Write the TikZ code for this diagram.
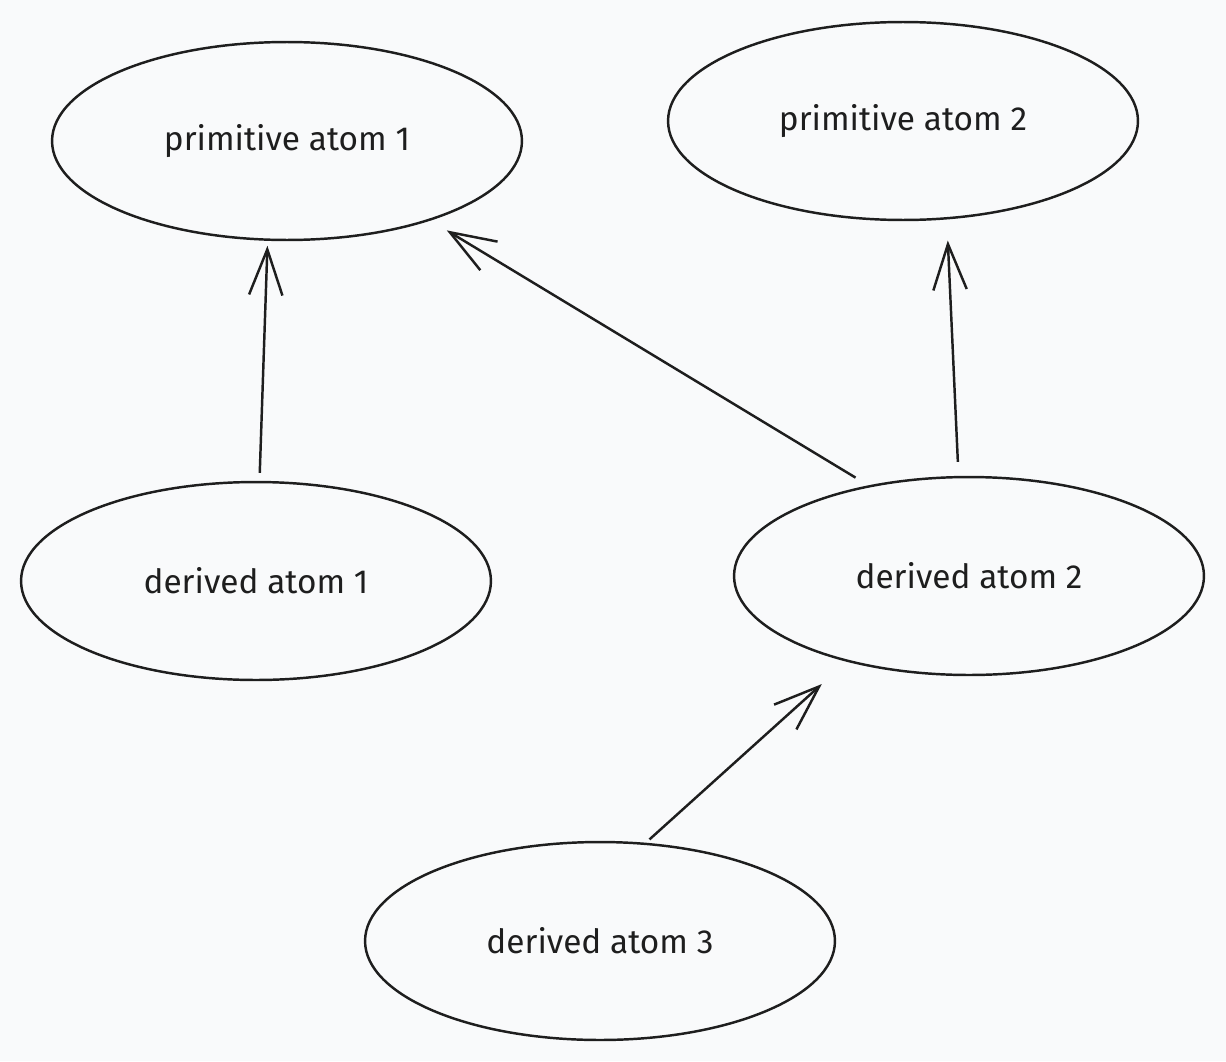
\documentclass[tikz,border=0pt]{standalone}
\usepackage{fontspec}
\setmainfont{Fira Sans}
\usetikzlibrary{shapes.geometric,arrows.meta}
\definecolor{paper}{HTML}{F9FAFB}
\definecolor{ink}{HTML}{1E1E1E}
\tikzset{
  atom/.style={ellipse, draw=ink, line width=1.4pt, minimum width=9.4cm,
    minimum height=3.96cm, inner sep=0pt, font=\fontsize{19}{22}\selectfont, text=ink},
  dep/.style={draw=ink, line width=1.4pt, -{Straight Barb[length=26pt,width=19pt]}}
}
\begin{document}
\begin{tikzpicture}[x=0.02cm,y=-0.02cm]
  % page
  \fill[paper] (0,0) rectangle (1226,1061);
  \useasboundingbox (0,0) rectangle (1226,1061);
  % atoms
  \foreach \n/\x/\y/\lab in {p1/287/141/primitive atom 1, p2/903/121/primitive atom 2,
      d1/256/581/derived atom 1, d2/969/576/derived atom 2, d3/600/941/derived atom 3} {
    \node[atom] (\n) at (\x,\y) {\lab};
  }
  % dependencies
  \draw[dep, shorten <=4.5pt, shorten >=2.8pt] (d1.88) -- (p1.259);
  \draw[dep, shorten <=8.5pt, shorten >=10.8pt] (d2.138) -- (p1.331.5);
  \draw[dep, shorten <=8pt, shorten >=12pt] (d2.96) -- (p2.294);
  \draw[dep, shorten <=2.8pt, shorten >=19pt] (d3.65) -- (d2.215);
\end{tikzpicture}
\end{document}
